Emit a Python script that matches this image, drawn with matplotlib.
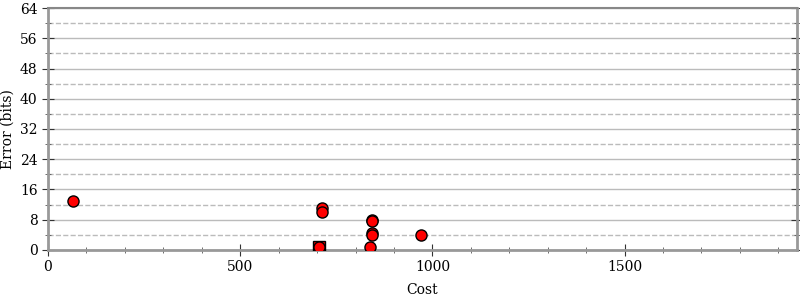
import matplotlib
matplotlib.use('Agg')
import matplotlib.pyplot as plt
from matplotlib.ticker import MultipleLocator

plt.rcParams['font.family'] = 'DejaVu Serif'
plt.rcParams['font.size'] = 10

# 数据
cost = [66, 712, 712, 842, 842, 842, 842, 838, 705, 971]
error = [13.0, 11.2, 10.0, 8.0, 7.6, 4.6, 4.0, 0.9, 0.9, 4.0]
best_cost = [705]
best_error = [0.9]

fig = plt.figure(figsize=(8, 3), dpi=100)
ax = fig.add_axes([0.06, 0.1667, 0.936, 0.8066])

ax.plot(best_cost, best_error, 's', color='red', markeredgecolor='black',
        markersize=8, zorder=3)
ax.plot(cost, error, 'o', color='red', markeredgecolor='black',
        markersize=8, zorder=4)

ax.set_xlim(0, 1948)
ax.set_ylim(0, 64)
ax.xaxis.set_major_locator(MultipleLocator(500))
ax.xaxis.set_minor_locator(MultipleLocator(100))
ax.yaxis.set_major_locator(MultipleLocator(8))
ax.yaxis.set_minor_locator(MultipleLocator(4))

ax.grid(which='major', axis='y', color='#bbbbbb', linestyle='-', linewidth=1)
ax.grid(which='minor', axis='y', color='#bbbbbb', linestyle='--', linewidth=1)
ax.set_axisbelow(True)

for s in ['left', 'bottom', 'right']:
    ax.spines[s].set_color('#999999')
    ax.spines[s].set_linewidth(2)
ax.spines['top'].set_color('#888888')
ax.spines['top'].set_linewidth(1.5)

ax.tick_params(which='major', direction='inout', length=8, color='#333333',
               right=True)
ax.tick_params(which='minor', direction='inout', length=5, color='#555555',
               right=True)

ax.set_xlabel('Cost', labelpad=6)
ax.set_ylabel('Error (bits)')

fig.savefig('out.png', dpi=100)
